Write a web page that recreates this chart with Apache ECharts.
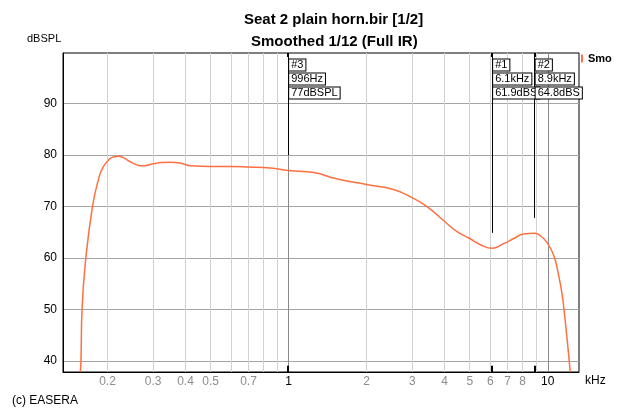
<!DOCTYPE html>
<html>
<head>
<meta charset="utf-8">
<script src="https://cdn.jsdelivr.net/npm/echarts@6/dist/echarts.min.js"></script>
<style>
  html, body { margin: 0; padding: 0; background: #fff; }
  #chart { width: 623px; height: 408px; }
</style>
</head>
<body>
<div id="chart"></div>
<script>
// frequency response (kHz, dBSPL)
const freqs = [0.157, 0.158, 0.1595, 0.165, 0.175, 0.184, 0.192, 0.2045, 0.212, 0.22, 0.23, 0.245, 0.26, 0.271, 0.285, 0.30, 0.325, 0.349, 0.38, 0.42, 0.5, 0.6, 0.7, 0.85,
  1.0, 1.25, 1.53, 2.0, 2.54, 3.0, 3.42, 3.96, 4.45, 5.0, 5.5, 6.1, 6.75, 7.4, 8.06, 8.9, 9.34, 9.9, 10.55, 11.03, 11.37, 11.6, 11.85, 12.1, 12.2]
const levels = [37.9, 40, 50, 60, 70, 75, 77.6, 79.3, 79.65, 79.75, 79.5, 78.7, 78.1, 77.9, 78.0, 78.3, 78.55, 78.6, 78.45, 77.9, 77.8, 77.8, 77.7, 77.5,
  77.0, 76.6, 75.4, 74.3, 73.3, 71.7, 70.0, 67.3, 65.2, 63.8, 62.6, 61.9, 62.8, 63.8, 64.7, 64.8, 64.4, 63.1, 60.5, 56.5, 52.8, 49.2, 44.7, 40.1, 37.9]

// markers
const markerNames = ['#3', '#1', '#2']
const markerFreqs = [0.996, 6.1, 8.9]
const markerFreqText = ['996Hz', '6.1kHz', '8.9kHz']
const markerLevels = [77, 61.9, 64.8]

// axes
const xGridValues = [0.2, 0.3, 0.4, 0.5, 0.6, 0.7, 0.8, 0.9, 1, 2, 3, 4, 5, 6, 7, 8, 9, 10]
const xLabelValues = [0.2, 0.3, 0.4, 0.5, 0.7, 1, 2, 3, 4, 5, 6, 7, 8, 10]
const yTickValues = [40, 50, 60, 70, 80, 90]
const xMin = 0.1347, xMax = 13.2
const yMin = 37.9, yMax = 99.8

const FONT = 'Liberation Sans, Arial, sans-serif'
const chart = echarts.init(document.getElementById('chart'))

const decade = v => v === 1 || v === 10

const markLineData = []
markerFreqs.forEach((f, i) => {
  markLineData.push([{ coord: [f, yMax], lineStyle: { width: 1 } }, { coord: [f, markerLevels[i] + 3] }])
  markLineData.push([{ coord: [f, yMax], lineStyle: { width: 2 } }, { coord: [f, yMax - 0.8] }])
  markLineData.push([{ coord: [f, yMin], lineStyle: { width: 2 } }, { coord: [f, yMin + 1.2] }])
})

const markPointData = markerFreqs.map((f, i) => ({
  coord: [f, yMax],
  label: {
    formatter: `{a|${markerNames[i]}}\n{a|${markerFreqText[i]}}\n{a|${markerLevels[i]}dBSPL}`,
    width: i === 0 ? 80 : 49,
    overflow: 'truncate',
    ellipsis: ''
  }
}))

chart.setOption({
  animation: false,
  textStyle: { fontFamily: FONT },
  grid: { left: 63, top: 53, right: 44, bottom: 36, show: true, borderColor: '#000', borderWidth: 1, backgroundColor: 'transparent' },
  legend: {
    left: 581, top: 53, icon: 'rect', itemWidth: 2, itemHeight: 8, padding: 0,
    textStyle: { fontFamily: FONT, fontSize: 11, fontWeight: 'bold', color: '#000', width: 28, overflow: 'truncate', ellipsis: '' },
    data: ['Smoothed 1/12 (Full IR)']
  },
  graphic: [
    { type: 'text', left: 244, top: 12, style: { text: 'Seat 2 plain horn.bir [1/2]', font: `bold 15px ${FONT}`, fill: '#000' } },
    { type: 'text', left: 251, top: 34, style: { text: 'Smoothed 1/12 (Full IR)', font: `bold 15px ${FONT}`, fill: '#000' } },
    { type: 'text', left: 27, top: 33, style: { text: 'dBSPL', font: `11px ${FONT}`, fill: '#000' } },
    { type: 'text', left: 12, top: 395, style: { text: '(c) EASERA', font: `12px ${FONT}`, fill: '#000' } }
  ],
  xAxis: {
    type: 'log',
    min: xMin,
    max: xMax,
    name: 'kHz',
    nameLocation: 'end',
    nameGap: 6,
    nameTextStyle: { fontFamily: FONT, fontSize: 12, color: '#000', verticalAlign: 'top', padding: [3, 0, 0, 0] },
    axisLine: { show: true, lineStyle: { color: '#000' } },
    axisTick: { show: false, customValues: xGridValues },
    axisLabel: {
      customValues: xLabelValues,
      margin: 4,
      fontSize: 12,
      fontFamily: FONT,
      color: v => decade(v) ? '#000' : '#8c8c8c',
      formatter: v => String(v)
    },
    splitLine: {
      show: true,
      lineStyle: { width: 1, color: xGridValues.map(v => decade(v) ? '#8a8a8a' : '#d2d2d2') }
    }
  },
  yAxis: {
    type: 'value',
    min: yMin,
    max: yMax,
    axisLine: { show: true, lineStyle: { color: '#000' } },
    axisTick: { show: false, customValues: yTickValues },
    axisLabel: { customValues: yTickValues, margin: 6, fontSize: 12, fontFamily: FONT, color: '#000' },
    splitLine: { show: true, lineStyle: { color: '#a4a4a4', width: 1 } }
  },
  series: [{
    name: 'Smoothed 1/12 (Full IR)',
    type: 'line',
    data: freqs.map((f, i) => [f, levels[i]]),
    showSymbol: false,
    smooth: 0.5,
    clip: true,
    lineStyle: { color: '#ff7040', width: 1.5 },
    itemStyle: { color: '#ff7040' },
    markLine: {
      silent: true,
      symbol: 'none',
      label: { show: false },
      lineStyle: { color: '#000', type: 'solid', width: 1 },
      data: markLineData
    },
    markPoint: {
      silent: true,
      symbol: 'rect',
      symbolSize: 0,
      label: {
        show: true,
        position: [1, 5],
        align: 'left',
        verticalAlign: 'top',
        rich: {
          a: {
            fontFamily: FONT, fontSize: 11, color: '#000', lineHeight: 14,
            borderColor: '#000', borderWidth: 1, backgroundColor: '#fff',
            padding: [0, 2, 0, 2]
          }
        }
      },
      data: markPointData
    }
  }]
})
</script>
</body>
</html>
